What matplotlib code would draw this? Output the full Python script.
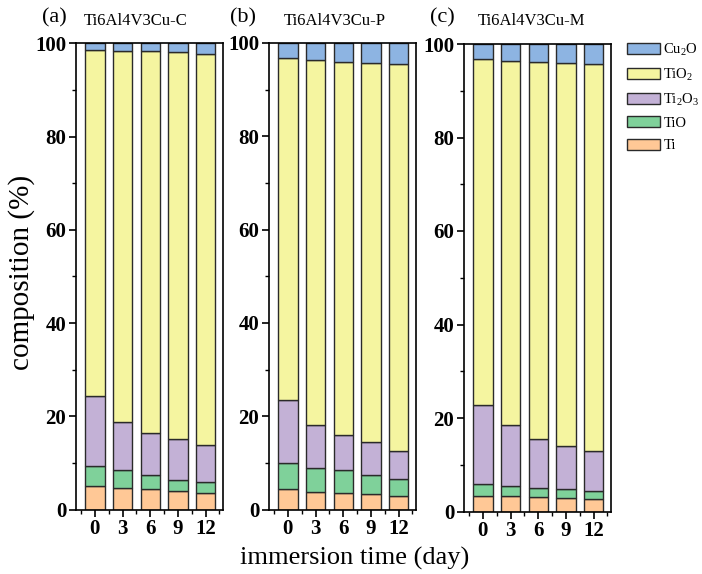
import matplotlib
matplotlib.use("Agg")
import matplotlib.pyplot as plt
import numpy as np
from matplotlib.ticker import FixedLocator

plt.rcParams['font.family'] = ['Liberation Serif', 'DejaVu Serif']
plt.rcParams['mathtext.fontset'] = 'custom'
plt.rcParams['mathtext.rm'] = 'Liberation Serif'
plt.rcParams['mathtext.it'] = 'Liberation Serif:italic'
plt.rcParams['mathtext.bf'] = 'Liberation Serif:bold'

days = ['0', '3', '6', '9', '12']
species = ['Ti', 'TiO', 'Ti$_2$O$_3$', 'TiO$_2$', 'Cu$_2$O']
colors = ['#FFC896', '#7FD19A', '#C3B1D6', '#F5F5A0', '#8DB4E2']

panel_titles = ['Ti6Al4V3Cu-C', 'Ti6Al4V3Cu-P', 'Ti6Al4V3Cu-M']
panel_tags = ['(a)', '(b)', '(c)']

# composition (%) per species, per immersion time
C_Ti    = [5.1, 4.7, 4.5, 4.0, 3.6]
C_TiO   = [4.3, 3.7, 3.0, 2.4, 2.2]
C_Ti2O3 = [15.0, 10.4, 9.0, 8.8, 8.1]
C_TiO2  = [74.2, 79.6, 81.8, 83.0, 83.9]
C_Cu2O  = [1.4, 1.6, 1.7, 1.8, 2.2]

P_Ti    = [4.3, 3.8, 3.5, 3.3, 2.9]
P_TiO   = [5.7, 5.2, 4.9, 4.2, 3.6]
P_Ti2O3 = [13.5, 9.2, 7.6, 7.0, 6.0]
P_TiO2  = [73.3, 78.2, 80.0, 81.3, 82.9]
P_Cu2O  = [3.2, 3.6, 4.0, 4.2, 4.6]

M_Ti    = [3.4, 3.3, 3.1, 2.9, 2.7]
M_TiO   = [2.5, 2.1, 2.0, 2.0, 1.7]
M_Ti2O3 = [16.8, 13.0, 10.4, 9.1, 8.6]
M_TiO2  = [74.0, 78.0, 80.6, 81.9, 82.8]
M_Cu2O  = [3.3, 3.6, 3.9, 4.1, 4.2]

panels = [
    [C_Ti, C_TiO, C_Ti2O3, C_TiO2, C_Cu2O],
    [P_Ti, P_TiO, P_Ti2O3, P_TiO2, P_Cu2O],
    [M_Ti, M_TiO, M_Ti2O3, M_TiO2, M_Cu2O],
]

W, H = 702, 574
fig = plt.figure(figsize=(W / 100, H / 100), dpi=100)

# axes boxes in pixels: (left, top, right, bottom)
boxes = [(76, 43.3, 223, 509.5), (269, 43.0, 416, 509.5), (464, 44.0, 611, 511.5)]
tag_pos = [(54.5, 18), (243, 18), (442, 18)]
title_pos = [(135.5, 21), (334.5, 21), (532, 21)]

x = np.arange(len(days))
handles = []
for k, (data, box) in enumerate(zip(panels, boxes)):
    l, t, r, b = box
    ax = fig.add_axes([l / W, (H - b) / H, (r - l) / W, (b - t) / H])
    bottom = np.zeros(len(days))
    hs = []
    for vals, name, col in zip(data, species, colors):
        h = ax.bar(x, vals, width=0.70, bottom=bottom, color=col,
                   edgecolor='#2a2a2a', linewidth=1.0, label=name)
        bottom = bottom + np.array(vals)
        hs.append(h)
    if k == 0:
        handles = hs
    ax.set_xlim(-0.68, 4.63)
    ax.set_ylim(0, 100)
    ax.set_xticks(x)
    ax.set_xticklabels(days, fontsize=15, fontweight='bold')
    ax.xaxis.set_minor_locator(FixedLocator(np.arange(-0.5, 4.6, 1.0)))
    ax.set_yticks(np.arange(0, 101, 20))
    ax.set_yticklabels([str(v) for v in range(0, 101, 20)], fontsize=15, fontweight='bold')
    ax.yaxis.set_minor_locator(FixedLocator(np.arange(10, 100, 20)))
    ax.tick_params(which='major', direction='out', length=5, width=1.2, pad=2)
    ax.tick_params(which='minor', direction='out', length=3, width=1.0)
    for s in ax.spines.values():
        s.set_linewidth(1.2)
    fig.text(tag_pos[k][0] / W, 1 - tag_pos[k][1] / H, panel_tags[k],
             fontsize=16, ha='center', va='center')
    fig.text(title_pos[k][0] / W, 1 - title_pos[k][1] / H, panel_titles[k],
             fontsize=12, ha='center', va='center')

fig.text(22 / W, 1 - 272 / H, 'composition (%)', rotation=90,
         fontsize=21, ha='center', va='center')
fig.text(354.5 / W, 1 - 558 / H, 'immersion time (day)',
         fontsize=19, ha='center', va='center')

fig.legend(handles[::-1], species[::-1], loc='upper left',
           bbox_to_anchor=(621 / W, 1 - 36 / H), frameon=False,
           fontsize=10.5, handlelength=2.3, handleheight=0.78,
           handletextpad=0.2, labelspacing=0.6, borderaxespad=0)

fig.savefig('out.png', dpi=100)
